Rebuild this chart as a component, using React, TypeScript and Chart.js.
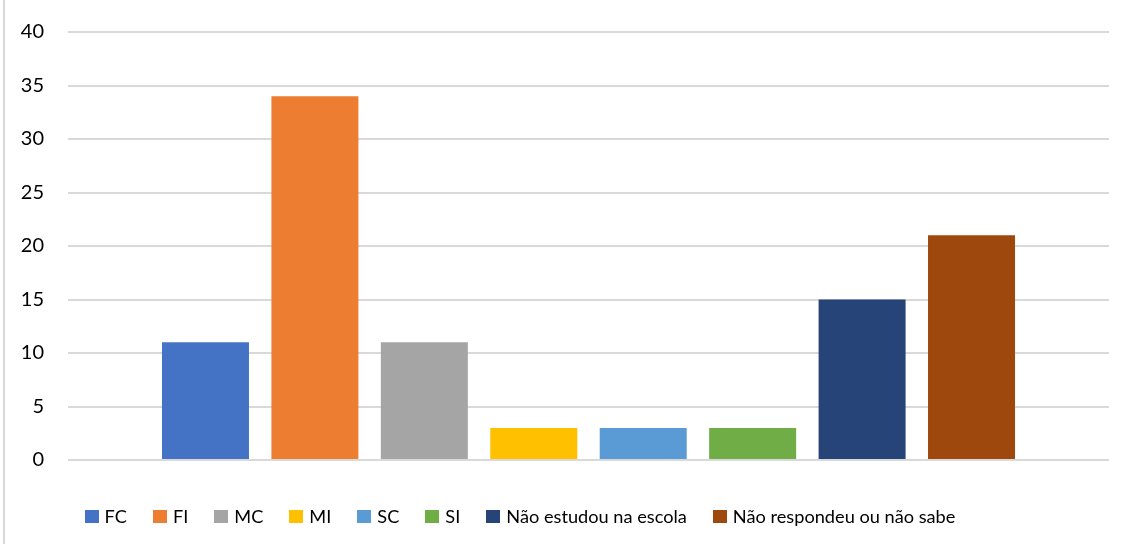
import React, { useEffect, useRef } from "react";
import { Chart, registerables } from "chart.js";

Chart.register(...registerables);

const seriesNames = [
  "FC",
  "FI",
  "MC",
  "MI",
  "SC",
  "SI",
  "Não estudou na escola",
  "Não respondeu ou não sabe",
];
const seriesValues = [11, 34, 11, 3, 3, 3, 15, 21];
const seriesColors = [
  "#4472C4",
  "#ED7D31",
  "#A5A5A5",
  "#FFC000",
  "#5B9BD5",
  "#70AD47",
  "#264478",
  "#9E480E",
];
const yTicks = [0, 5, 10, 15, 20, 25, 30, 35, 40];

const FONT = "Lato, 'Open Sans', sans-serif";
const TICK_SIZE = 20;
const LEGEND_SIZE = 18.2;

export default function App() {
  const canvasRef = useRef<HTMLCanvasElement | null>(null);

  useEffect(() => {
    document.body.style.margin = "0";
    const ctx = canvasRef.current!;
    const chart = new Chart(ctx, {
      type: "bar",
      data: {
        labels: [""],
        datasets: seriesNames.map((name, i) => ({
          label: name,
          data: [seriesValues[i]],
          backgroundColor: seriesColors[i],
          borderWidth: 0,
          categoryPercentage: 0.841,
          barPercentage: 0.795,
        })),
      },
      options: {
        animation: false,
        responsive: false,
        maintainAspectRatio: false,
        layout: { padding: { top: 32, right: 17, bottom: 84, left: 0 } },
        plugins: {
          legend: { display: false },
          tooltip: { enabled: false },
        },
        scales: {
          x: { display: false },
          y: {
            min: 0,
            max: 40,
            afterFit: (scale: any) => {
              scale.width = 68;
              scale.paddingTop = 12;
              scale.paddingBottom = 12;
            },
            afterBuildTicks: (scale: any) => {
              scale.ticks = yTicks.map((v) => ({ value: v }));
            },
            border: { display: false },
            grid: { color: "#D9D9D9", lineWidth: 2, drawTicks: false },
            ticks: {
              padding: 24,
              color: "#000",
              font: { family: FONT, size: TICK_SIZE },
            },
          },
        },
      },
    });
    return () => chart.destroy();
  }, []);

  return (
    <div style={{ position: "absolute", left: 0, top: 0, width: 1126, height: 544, background: "#fff" }}>
      <div style={{ position: "absolute", left: 3, top: 0, width: 2, height: 544, background: "#D9D9D9" }} />
      <canvas ref={canvasRef} width={1126} height={544} style={{ position: "absolute", left: 0, top: 0, width: 1126, height: 544 }} />
      <div
        style={{
          position: "absolute",
          left: 0,
          width: 1040,
          top: 502,
          height: 28,
          display: "flex",
          justifyContent: "center",
          alignItems: "center",
          fontFamily: FONT,
          fontSize: LEGEND_SIZE,
          color: "#000",
          whiteSpace: "nowrap",
        }}
      >
        {seriesNames.map((name, i) => (
          <div key={name} style={{ display: "flex", alignItems: "center", marginLeft: i === 0 ? 0 : 26 }}>
            <span style={{ display: "inline-block", width: 14, height: 13, background: seriesColors[i], marginRight: 6 }} />
            <span>{name}</span>
          </div>
        ))}
      </div>
    </div>
  );
}
